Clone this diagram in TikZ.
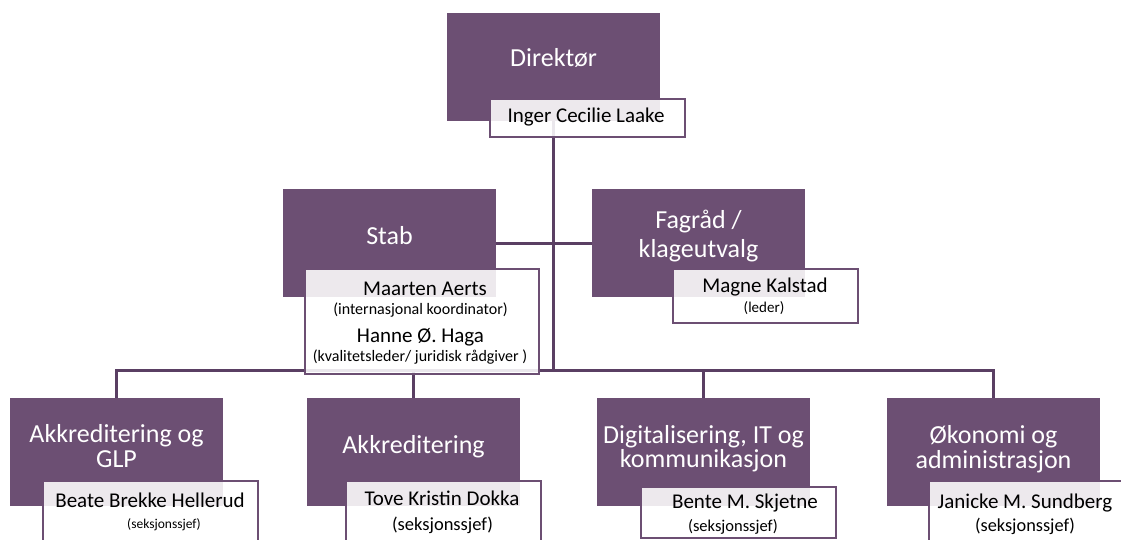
\documentclass[tikz,border=0pt]{standalone}
\usepackage{fontspec}
\setmainfont{Carlito}
\usepackage{tikz}
\tikzstyle{orgChart} = [x = 1pt, y = -1pt]
\definecolor{unitColor}{RGB}{108,79,115}
\definecolor{lineColor}{RGB}{90,63,99}
\tikzstyle{unitStyle} = [fill=unitColor, draw=none, anchor=north west, inner sep=0pt]
\tikzstyle{personStyle} = [fill=white, fill opacity=0.88, draw=unitColor, line width=2pt, anchor=north west, inner sep=0pt]
\tikzstyle{connector} = [draw=lineColor, line width=3pt]
\tikzstyle{unitText} = [text=white, font=\fontsize{26}{30}\selectfont, anchor=base, inner sep=0pt]
\tikzstyle{nameText} = [text=black, font=\fontsize{21}{25}\selectfont, anchor=base, inner sep=0pt]
\tikzstyle{roleText} = [text=black, anchor=base, inner sep=0pt]
\newcommand{\unitBox}[3]{\node [unitStyle, minimum width=213pt, minimum height=108pt] (#1) at (#2,#3) {};}
\newcommand{\personBox}[5]{\node [personStyle, minimum width=#4pt, minimum height=#5pt] (#1) at (#2,#3) {};}
\newcommand{\unitLine}[4]{\node [unitText] (#1) at (#2,#3) {#4};}
\newcommand{\nameLine}[4]{\node [nameText] (#1) at (#2,#3) {#4};}
\newcommand{\roleLine}[5]{\node [roleText, font=\fontsize{#4}{#4}\selectfont] (#1) at (#2,#3) {#5};}

\begin{document}
\begin{tikzpicture}[orgChart]
  \useasboundingbox (0,0) rectangle (1121,540);
  \clip (0,0) rectangle (1121,540);
  % units
  \unitBox{direktor}{447}{13}
  \unitBox{stab}{283}{189}
  \unitBox{fagrad}{592}{189}
  \unitBox{akkGlp}{10}{398}
  \unitBox{akk}{307}{398}
  \unitBox{digital}{597}{398}
  \unitBox{okonomi}{887}{398}
  % connectors
  \coordinate (busLeft) at (116,370);
  \draw [connector] (direktor.south) -- (direktor.south |- busLeft);
  \draw [connector] (stab.east) -- (fagrad.west);
  \draw [connector] (akkGlp.north) -- (akkGlp.north |- busLeft) -- (okonomi.north |- busLeft) -- (okonomi.north);
  \draw [connector] (akk.north) -- (akk.north |- busLeft);
  \draw [connector] (digital.north) -- (digital.north |- busLeft);
  % persons
  \personBox{direktorPerson}{489}{98}{195}{38}
  \personBox{stabPerson}{304}{268}{234}{105}
  \personBox{fagradPerson}{672}{268}{185}{54}
  \personBox{akkGlpPerson}{42}{480}{215}{90}
  \personBox{akkPerson}{345}{480}{195}{90}
  \personBox{digitalPerson}{640}{486}{195}{51}
  \personBox{okonomiPerson}{928}{480}{210}{90}
  % texts
  \unitLine{direktorText}{553.5}{67}{Direktør}
  \nameLine{direktorName}{586}{123}{Inger Cecilie Laake}
  \unitLine{stabText}{389.5}{244}{Stab}
  \nameLine{stabNameA}{425}{295}{Maarten Aerts}
  \roleLine{stabRoleA}{420.5}{314}{16}{(internasjonal koordinator)}
  \nameLine{stabNameB}{420.5}{342}{Hanne Ø. Haga}
  \roleLine{stabRoleB}{420}{361}{16}{(kvalitetsleder/ juridisk rådgiver )}
  \unitLine{fagradTextA}{698.5}{228}{Fagråd /}
  \unitLine{fagradTextB}{698.5}{257}{klageutvalg}
  \nameLine{fagradName}{765}{292}{Magne Kalstad}
  \roleLine{fagradRole}{764}{312}{15}{(leder)}
  \unitLine{akkGlpTextA}{116.5}{442}{Akkreditering og}
  \unitLine{akkGlpTextB}{116.5}{467}{GLP}
  \nameLine{akkGlpName}{150}{507}{Beate Brekke Hellerud}
  \roleLine{akkGlpRole}{164}{528}{13.5}{(seksjonssjef)}
  \unitLine{akkText}{413.5}{453}{Akkreditering}
  \nameLine{akkName}{442}{505}{Tove Kristin Dokka}
  \roleLine{akkRole}{442.5}{530}{18.5}{(seksjonssjef)}
  \unitLine{digitalTextA}{703.5}{443}{Digitalisering, IT og}
  \unitLine{digitalTextB}{703.5}{467}{kommunikasjon}
  \nameLine{digitalName}{745}{508}{Bente M. Skjetne}
  \roleLine{digitalRole}{733}{531}{16.5}{(seksjonssjef)}
  \unitLine{okonomiTextA}{993.5}{443}{Økonomi og}
  \unitLine{okonomiTextB}{993.5}{468}{administrasjon}
  \nameLine{okonomiName}{1025}{508}{Janicke M. Sundberg}
  \roleLine{okonomiRole}{1025}{531}{18.3}{(seksjonssjef)}
\end{tikzpicture}
\end{document}
